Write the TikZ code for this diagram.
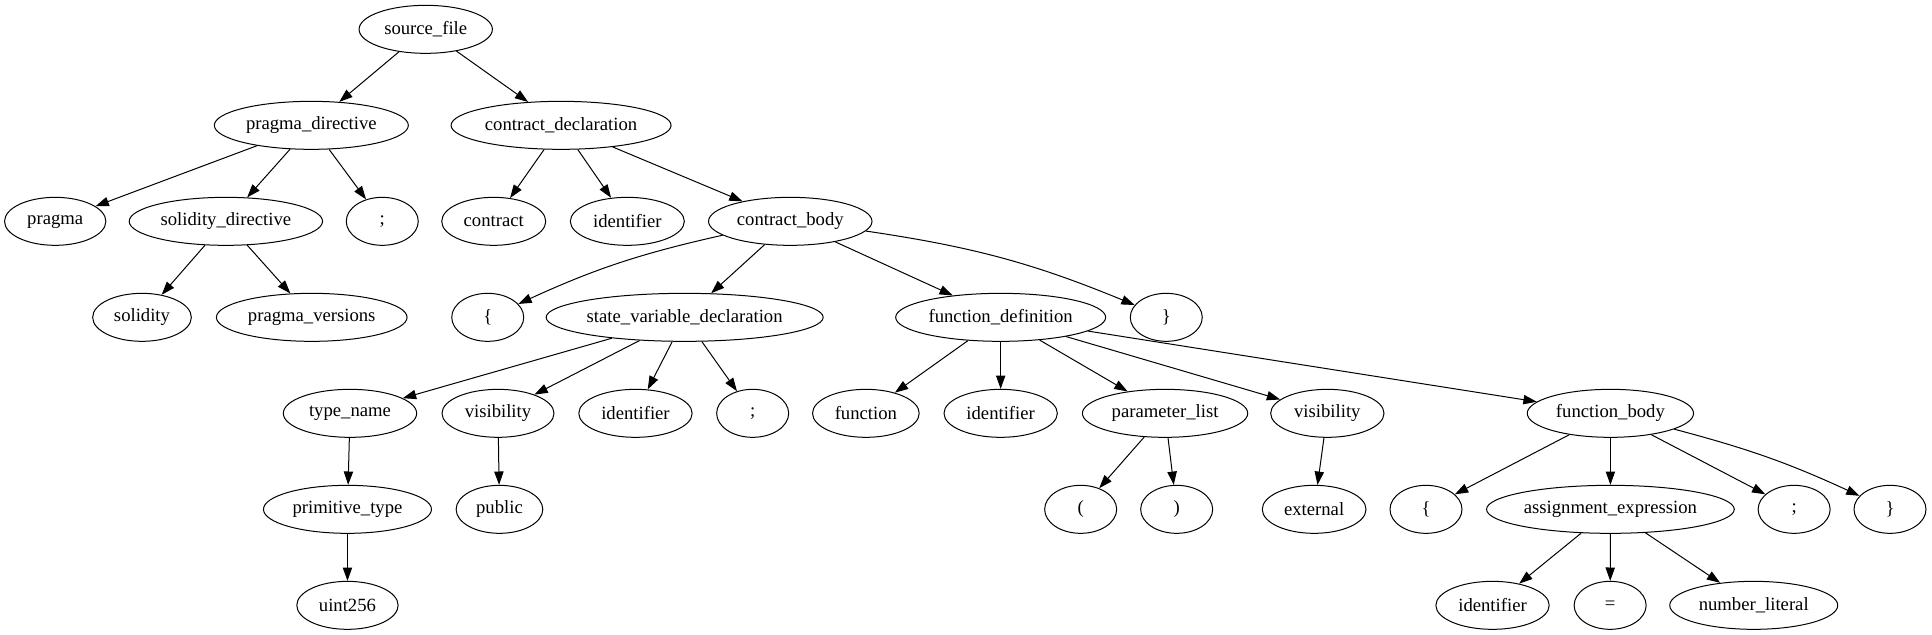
\documentclass[tikz,border=0pt]{standalone}
\usepackage{fontspec}
\setmainfont{Liberation Serif}
\usetikzlibrary{shapes.geometric,arrows.meta}
\begin{document}
\begin{tikzpicture}[x = 1pt, y = -72pt,
	tok/.style = {draw, ellipse, line width=.75pt, minimum width=#1, minimum height=36pt, inner xsep=0pt, inner ysep=0pt, font=\fontsize{14pt}{16pt}\selectfont},
	tok/.default = 54pt,
	arr/.style = {-{Triangle[length=10pt,width=7pt]}, line width=.75pt}]
	\useasboundingbox (0pt,22pt) rectangle (1449pt,-454pt);
	% row 0, 1
	\node[tok=100pt] (src) at (319.3,0) {source\_file};
	\node[tok=145.5pt] (pdir) at (233.5,1) {pragma\_directive};
	\node[tok=165pt] (cdecl) at (420.8,1) {contract\_declaration};
	% row 2
	\node[tok=76pt] (prag) at (41.4,2) {pragma};
	\node[tok=145pt] (soldir) at (169.4,2) {solidity\_directive};
	\node[tok] (psemi) at (286.7,2) {;};
	\node[tok=78pt] (ckw) at (370.3,2) {contract};
	\node[tok=85.5pt] (cid) at (470.5,2) {identifier};
	\node[tok=122.6pt] (cbody) at (592.7,2) {contract\_body};
	% row 3
	\node[tok=74pt] (sol) at (106.5,3) {solidity};
	\node[tok=143pt] (pver) at (233.8,3) {pragma\_versions};
	\node[tok] (cbl) at (365.8,3) {\{};
	\node[tok=205.5pt] (svd) at (513.5,3) {state\_variable\_declaration};
	\node[tok=157.5pt] (fdef) at (750.5,3) {function\_definition};
	\node[tok] (cbr) at (874.7,3) {\}};
	% row 4
	\node[tok=100pt] (tname) at (262.5,4) {type\_name};
	\node[tok=84pt] (svis) at (373.5,4) {visibility};
	\node[tok=85pt] (sid) at (476.6,4) {identifier};
	\node[tok] (ssemi) at (564.5,4) {;};
	\node[tok=80pt] (fkw) at (649.4,4) {function};
	\node[tok=85pt] (fid) at (750.5,4) {identifier};
	\node[tok=124pt] (plist) at (873.8,4) {parameter\_list};
	\node[tok=85pt] (fvis) at (995.5,4) {visibility};
	\node[tok=124.7pt] (fbody) at (1207.8,4) {function\_body};
	% row 5
	\node[tok=126pt] (ptype) at (260.6,5) {primitive\_type};
	\node[tok=65pt] (pub) at (374.6,5) {public};
	\node[tok] (lpar) at (810.5,5) {(};
	\node[tok] (rpar) at (882.5,5) {)};
	\node[tok=77.8pt] (ext) at (985.6,5) {external};
	\node[tok] (bbl) at (1069.5,5) {\{};
	\node[tok=185.8pt] (assign) at (1207.8,5) {assignment\_expression};
	\node[tok] (bsemi) at (1345.6,5) {;};
	\node[tok] (bbr) at (1417.5,5) {\}};
	% row 6
	\node[tok=76pt] (uint) at (260.6,6) {uint256};
	\node[tok=85pt] (aid) at (1119.4,6) {identifier};
	\node[tok] (eq) at (1207.6,6) {=};
	\node[tok=126pt] (num) at (1315.3,6) {number\_literal};
	% edges
	\foreach \a/\b in {src/pdir, src/cdecl, pdir/prag, pdir/soldir, pdir/psemi, soldir/sol, soldir/pver,
		cdecl/ckw, cdecl/cid, cdecl/cbody, cbody/svd, cbody/fdef,
		svd/tname, svd/svis, svd/sid, svd/ssemi, tname/ptype, ptype/uint, svis/pub,
		fdef/fkw, fdef/fid, fdef/plist, fdef/fvis, fdef/fbody, plist/lpar, plist/rpar, fvis/ext,
		fbody/bbl, fbody/assign, fbody/bsemi, assign/aid, assign/eq, assign/num}
		\draw[arr] (\a) -- (\b);
	\draw[arr] (cbody) to[bend right=6] (cbl); % slight curves
	\draw[arr] (cbody) to[bend left=7] (cbr);
	\draw[arr] (fbody) to[bend left=5] (bbr);
\end{tikzpicture}
\end{document}
